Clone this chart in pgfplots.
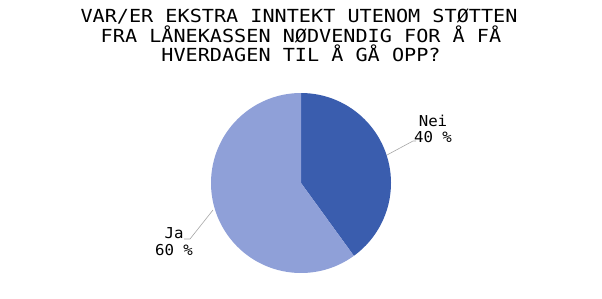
\documentclass[border=0pt]{standalone}
\usepackage{pgfplots}
\pgfplotsset{compat=1.18}
\usepackage{pgfplotstable}
\usepackage{fontspec}
\setmainfont{DejaVu Sans Mono}
\newfontfamily\mono{DejaVu Sans Mono}
\newfontfamily\monowide[FakeStretch=1.12]{DejaVu Sans Mono}
\newfontfamily\monolab[FakeStretch=1.05]{DejaVu Sans Mono}
\definecolor{neicol}{HTML}{3A5DAE}
\definecolor{jacol}{HTML}{8FA0D8}
\definecolor{leader}{HTML}{A6A6A6}
\pgfplotstableread{
label value
Nei 40
Ja 60
}\piedata
\begin{document}%
\begin{tikzpicture}
\pgfplotstablegetelem{0}{value}\of\piedata \let\vNei\pgfplotsretval
\pgfplotstablegetelem{1}{value}\of\piedata \let\vJa\pgfplotsretval
\pgfmathsetmacro{\aA}{90}
\pgfmathsetmacro{\aB}{90-3.6*\vNei}
\pgfmathsetmacro{\aC}{\aB-3.6*\vJa}
\path[use as bounding box] (0,0) rectangle (602pt,298pt);
\begin{axis}[
  scale only axis, width=602pt, height=298pt,
  xmin=0, xmax=602, ymin=0, ymax=298,
  xtick=\empty, ytick=\empty,
  hide axis, clip=false, anchor=south west, at={(0,0)}
]
% pie, centre (301,115), radius 90
\fill[neicol] (axis cs:301,115) -- ++(\aA:90pt) arc[start angle=\aA, end angle=\aB, radius=90pt] -- cycle;
\fill[jacol] (axis cs:301,115) -- ++(\aB:90pt) arc[start angle=\aB, end angle=\aC, radius=90pt] -- cycle;
% leader lines
\draw[leader, line width=0.6pt] (axis cs:387,143) -- (axis cs:413,157) -- (axis cs:416,157);
\draw[leader, line width=0.6pt] (axis cs:213,88) -- (axis cs:190,59) -- (axis cs:184,59);
% labels
\node[anchor=base, font=\monolab\fontsize{15}{16}\selectfont, inner sep=0pt] at (axis cs:433,172) {Nei};
\node[anchor=base, font=\monolab\fontsize{15}{16}\selectfont, inner sep=0pt] at (axis cs:433,156) {40 \%};
\node[anchor=base, font=\monolab\fontsize{15}{16}\selectfont, inner sep=0pt] at (axis cs:174,60) {Ja};
\node[anchor=base, font=\monolab\fontsize{15}{16}\selectfont, inner sep=0pt] at (axis cs:174,43) {60 \%};
% title
\node[anchor=base, font=\monowide\fontsize{18}{19.5}\selectfont, inner sep=0pt] at (axis cs:299,275) {VAR/ER EKSTRA INNTEKT UTENOM STØTTEN};
\node[anchor=base, font=\monowide\fontsize{18}{19.5}\selectfont, inner sep=0pt] at (axis cs:301,255.7) {FRA LÅNEKASSEN NØDVENDIG FOR Å FÅ};
\node[anchor=base, font=\monowide\fontsize{18}{19.5}\selectfont, inner sep=0pt] at (axis cs:301,236.5) {HVERDAGEN TIL Å GÅ OPP?};
\end{axis}
\end{tikzpicture}%
\end{document}
